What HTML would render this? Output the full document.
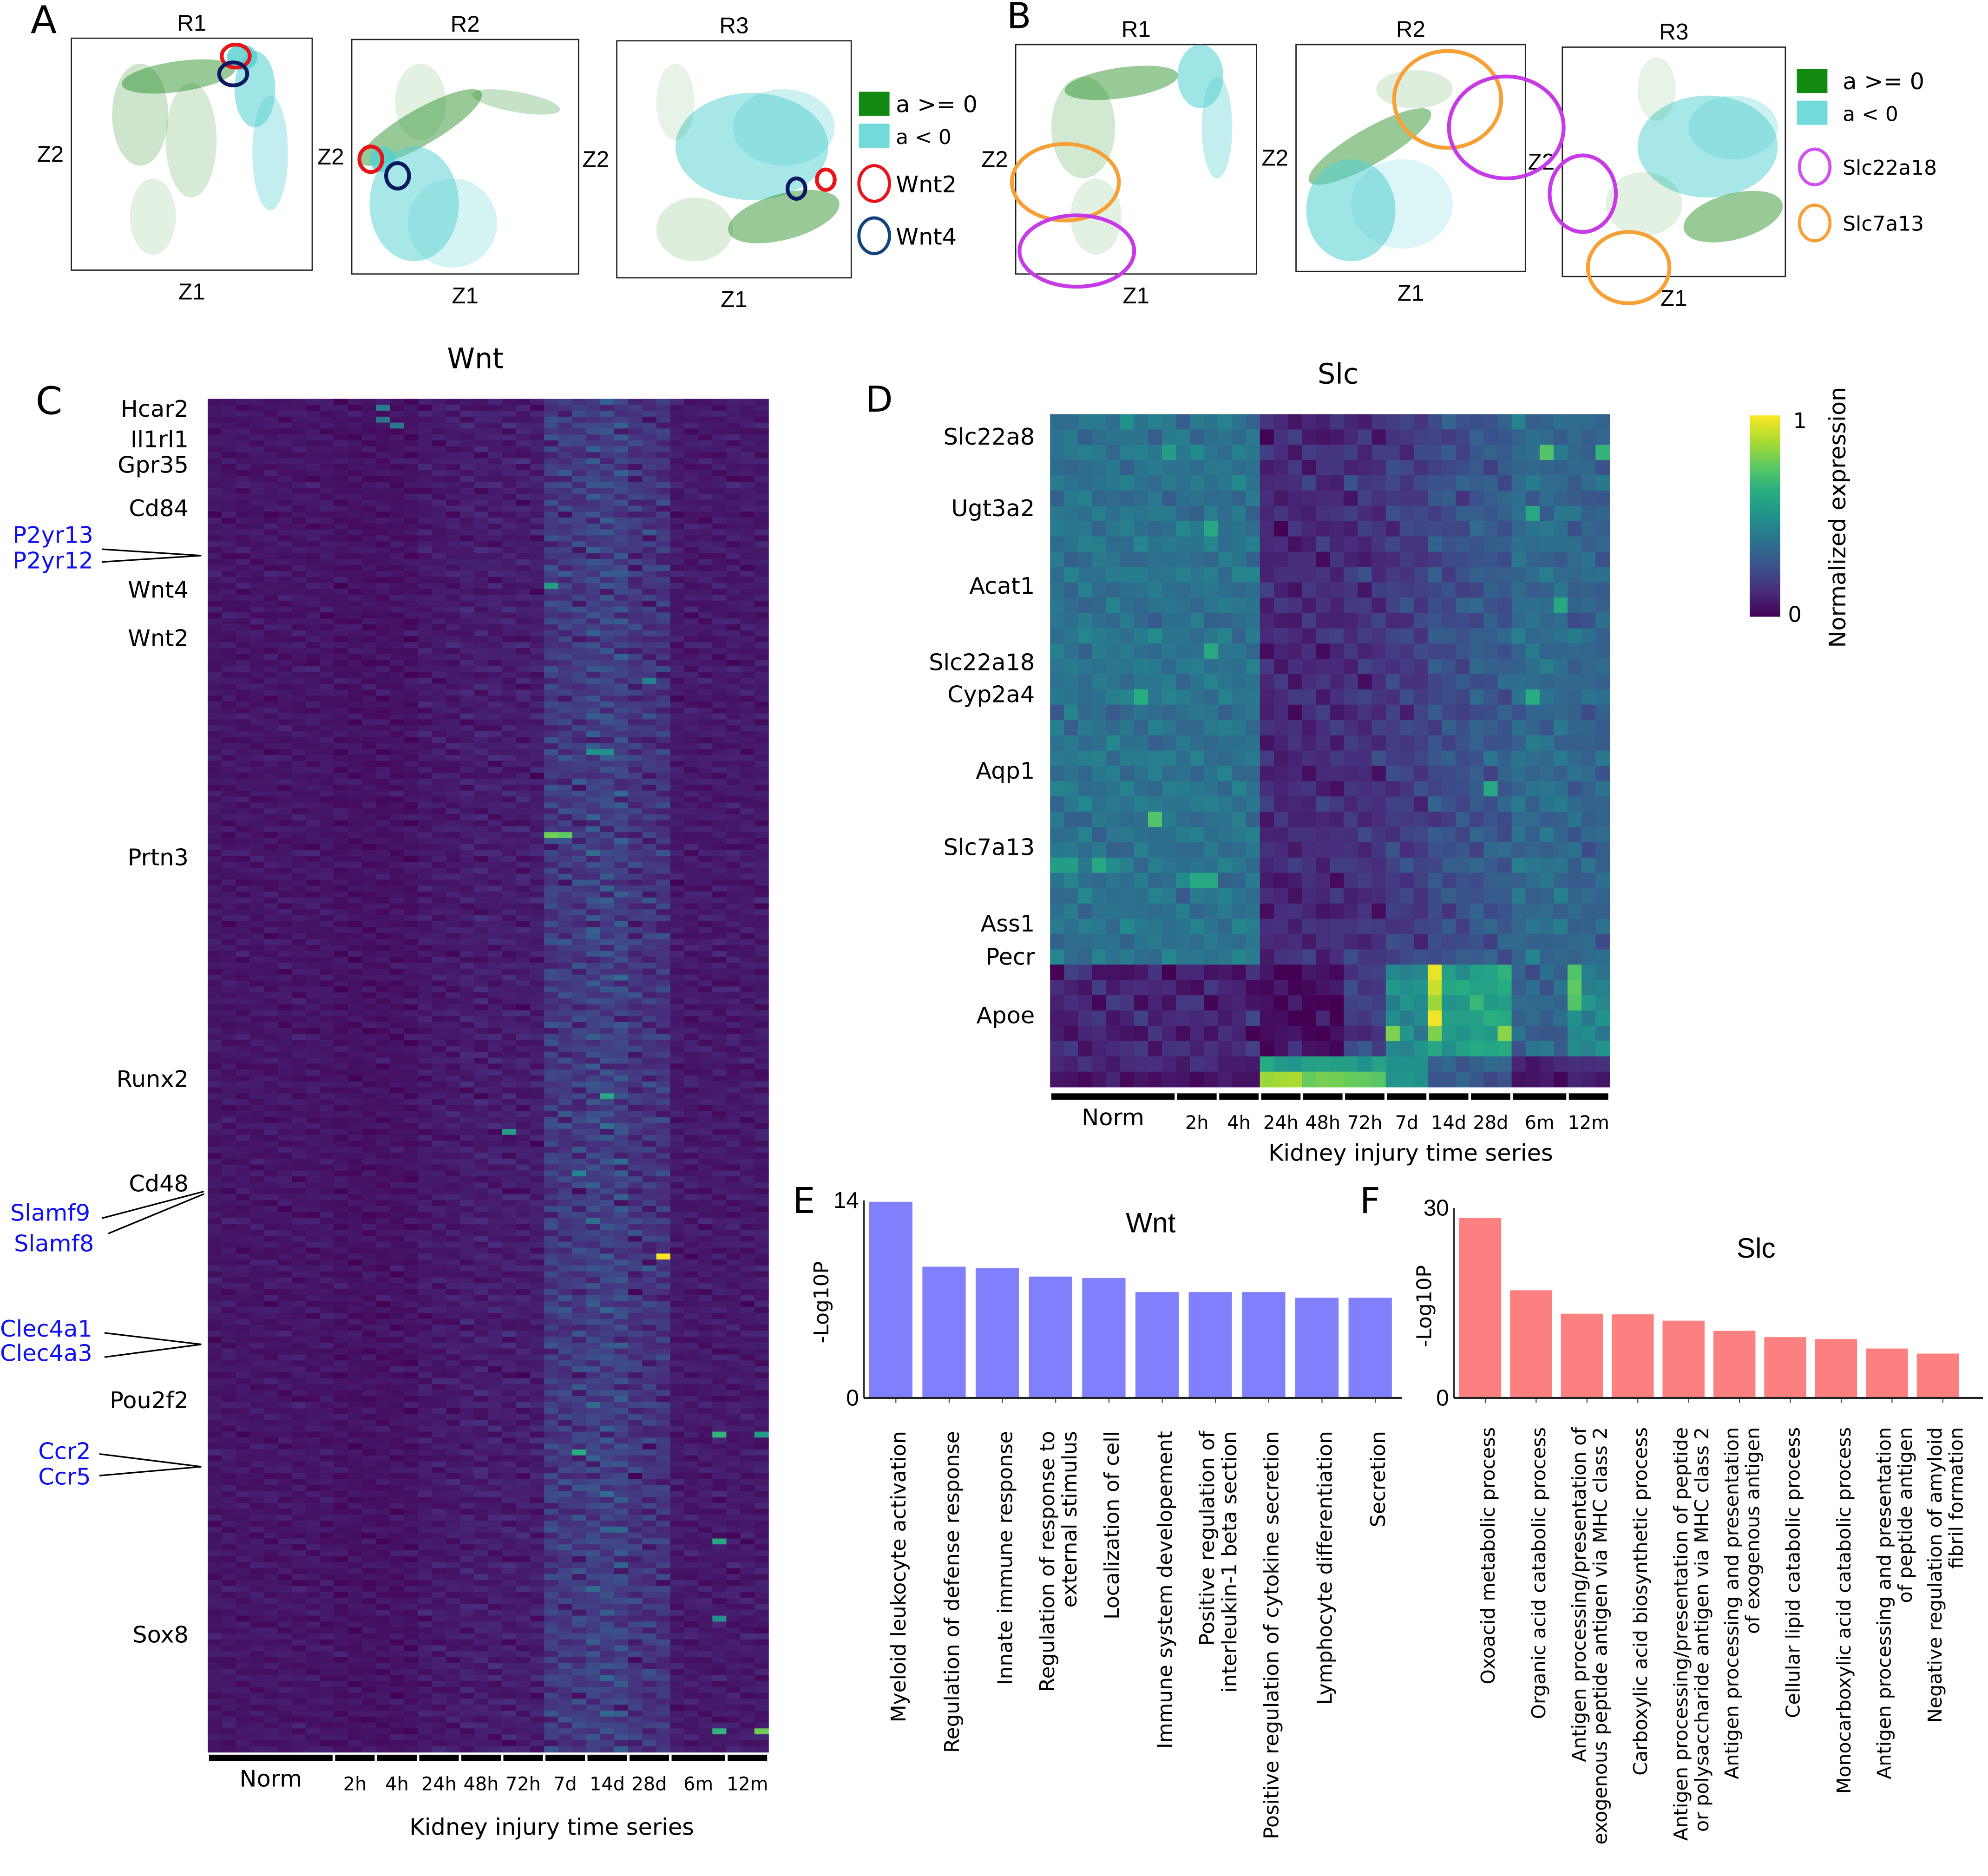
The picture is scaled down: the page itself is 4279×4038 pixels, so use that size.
<!DOCTYPE html>
<html><head><meta charset="utf-8">
<style>
html,body{margin:0;padding:0;background:#fff;}
svg{display:block;}
text{font-family:"DejaVu Sans","Liberation Sans",sans-serif;}
.cond{font-family:"Liberation Sans",sans-serif;}
</style></head>
<body>
<svg id="fig" width="4279" height="4038" viewBox="0 0 1560 1472.2" preserveAspectRatio="none" xmlns="http://www.w3.org/2000/svg">
<rect x="0" y="0" width="1560" height="1473" fill="#fff"/>
<text x="24" y="26" font-size="30">A</text>
<text x="790" y="22" font-size="28">B</text>
<text x="28" y="325" font-size="30">C</text>
<text x="679" y="323" font-size="28">D</text>
<text x="622" y="952" font-size="28">E</text>
<text x="1067" y="952" font-size="28">F</text>
<g id="scatters"></g>
<g id="legends"></g>
<g id="heatC"></g>
<g id="heatD"></g>
<g id="barE"></g>
<g id="barF"></g>
</svg>
<script>
const NS="http://www.w3.org/2000/svg";
function mk(tag,attrs,parent,txt){const e=document.createElementNS(NS,tag);for(const k in attrs)e.setAttribute(k,attrs[k]);if(txt!==undefined)e.textContent=txt;parent.appendChild(e);return e;}
const VIR=["#440154","#472d7b","#3b528b","#2c728e","#21918c","#28ae80","#5ec962","#addc30","#fde725"];
function hx(h){return [parseInt(h.substr(1,2),16),parseInt(h.substr(3,2),16),parseInt(h.substr(5,2),16)];}
function viridis(v){v=Math.max(0,Math.min(1,v));const p=v*8,i=Math.min(7,Math.floor(p)),f=p-i;const a=hx(VIR[i]),b=hx(VIR[i+1]);return "rgb("+a.map((x,k)=>Math.round(x+(b[k]-x)*f)).join(",")+")";}

/* ---------- Panels A / B scatter ---------- */
const panelNames=["a-r1","a-r2","a-r3","b-r1","b-r2","b-r3"];
const panelBoxes=[[56,30,189,182],[276,31,178,184],[484,32,184,186],[797,35,189,180],[1017,35,180,178],[1226,37,175,180]];
const GREEN="#1a8a1a",CYAN="#52cfd0";
const clusters=[
[0,140,60,45,12,-8,"g",0.45],[0,110,90,22,40,0,"g",0.22],[0,150,110,20,45,0,"g",0.18],[0,200,70,16,30,0,"c",0.55],[0,212,120,14,45,0,"c",0.35],[0,120,170,18,30,0,"g",0.12],[0,190,45,12,10,0,"c",0.8],
[1,330,100,55,14,-30,"g",0.45],[1,405,80,35,8,10,"g",0.25],[1,325,160,35,45,0,"c",0.5],[1,355,175,35,35,0,"c",0.25],[1,330,80,20,30,0,"g",0.12],[1,300,125,10,10,0,"c",0.8],
[2,590,115,60,42,0,"c",0.5],[2,615,100,40,30,0,"c",0.3],[2,615,170,45,18,-15,"g",0.45],[2,545,180,30,25,0,"g",0.15],[2,530,80,15,30,0,"g",0.1],
[3,880,65,45,12,-8,"g",0.45],[3,850,100,25,40,0,"g",0.2],[3,942,60,18,25,0,"c",0.55],[3,955,100,12,40,0,"c",0.35],[3,860,170,20,30,0,"g",0.12],
[4,1075,115,55,14,-30,"g",0.45],[4,1060,165,35,40,0,"c",0.55],[4,1100,160,40,35,0,"c",0.2],[4,1110,70,30,15,0,"g",0.15],
[5,1340,115,55,40,0,"c",0.5],[5,1360,100,35,25,0,"c",0.3],[5,1360,170,40,18,-15,"g",0.45],[5,1290,160,30,25,0,"g",0.12],[5,1300,70,15,25,0,"g",0.1]
];
const markers=[
[0,185,44,11,9,"#e8141a"],[0,183,58,11,9,"#0b1a60"],
[1,291,125,9,10,"#e8141a"],[1,312,138,9,10,"#0b1a60"],
[2,648,141,7,8,"#e8141a"],[2,625,148,7,8,"#0b1a60"],
[3,836,143,42,30,"#f7a035"],[3,845,197,45,28,"#c83ae8"],
[4,1136,78,42,38,"#f7a035"],[4,1182,100,45,40,"#c83ae8"],
[5,1242,152,26,30,"#c83ae8"],[5,1278,210,32,28,"#f7a035"]
];
(function(){
 const g=document.getElementById("scatters");
 panelBoxes.forEach((b,i)=>{
  const pg=mk("g",{},g);
  
  
  const r=mk("rect",{x:b[0],y:b[1],width:b[2],height:b[3],fill:"#fff",stroke:"#222","stroke-width":1},pg);
  
  
  const t=mk("text",{x:b[0]+b[2]/2,y:b[1]-6,"font-size":18,"text-anchor":"middle",class:"cond"},pg,"R"+(i%3+1));
  
  
  const zx=mk("text",{x:b[0]+b[2]/2,y:b[1]+b[3]+23,"font-size":18,"text-anchor":"middle",class:"cond"},pg,"Z1");
  
  
  const zy=mk("text",{x:b[0]-6,y:b[1]+b[3]/2+6,"font-size":18,"text-anchor":"end",class:"cond"},pg,"Z2");
  
  
 });
 clusters.forEach(c=>{
  const e=mk("ellipse",{cx:c[1],cy:c[2],rx:c[3],ry:c[4],transform:"rotate("+c[5]+" "+c[1]+" "+c[2]+")",fill:c[6]=="g"?GREEN:CYAN,"fill-opacity":c[7]},g);
  
  
 });
 markers.forEach(m=>{
  const e=mk("ellipse",{cx:m[1],cy:m[2],rx:m[3],ry:m[4],fill:"none",stroke:m[5],"stroke-width":3},g);
  
  
 });
 const L=document.getElementById("legends");
 const items=[
  ["rect",674,72,"#128a12","a >= 0",703,88],["rect",674,97,"#72dada","a  <  0",703,113],
  ["circ",686,144,"#e8141a","Wnt2",703,151],["circ",686,185,"#12437a","Wnt4",703,192],
  ["rect",1410,54,"#128a12","a >= 0",1446,70],["rect",1410,79,"#72dada","a  <  0",1446,95],
  ["circ",1424,131,"#d050f0","Slc22a18",1446,137],["circ",1424,175,"#f7a035","Slc7a13",1446,181]];
 items.forEach(it=>{
  if(it[0]=="rect"){const r=mk("rect",{x:it[1],y:it[2],width:24,height:19,fill:it[3]},L);}
  else{const c=mk("ellipse",{cx:it[1],cy:it[2],rx:12,ry:14,fill:"none",stroke:it[3],"stroke-width":2.5},L);}
  const t=mk("text",{x:it[5],y:it[6],"font-size":it[4].length>6?16:18,"xml:space":"preserve"},L,it[4]);
  
  
 });
})();

/* ---------- shared heatmap data ---------- */
const timeGroups=["Norm","2h","4h","24h","48h","72h","7d","14d","28d","6m","12m"];
const groupCols=[9,3,3,3,3,3,3,3,3,4,3];
const colJit=[0.2,0.7,0.4,0.9,0.1,0.5,0.8,0.3,0.6,0.2,0.9,0.4,0.7,0.1,0.5,0.3,0.8,0.6,0.2,0.9,0.4,0.1,0.7,0.5,0.3,0.8,0.2,0.6,0.9,0.4,0.1,0.7,0.5,0.8,0.3,0.6,0.2,0.9,0.4,0.7];
const rowJit=[0.5,0.1,0.8,0.3,0.9,0.2,0.6,0.4,0.7,0.0,0.85,0.35,0.55,0.15,0.95,0.25,0.65,0.45,0.75,0.05,0.6,0.3,0.9,0.2,0.5,0.8,0.1,0.7,0.4,0.95,0.25];
const rowJit2=[0.3,0.9,0.1,0.6,0.8,0.2,0.5,0.95,0.0,0.7,0.4,0.15,0.85,0.55,0.25,0.75,0.45];
function groupOf(c){let s=0;for(let g=0;g<groupCols.length;g++){s+=groupCols[g];if(c<s)return g;}return groupCols.length-1;}
function tex(r,c){return (rowJit[(r*3+c*7)%31]+rowJit2[(r+c*5)%17]+0.5*colJit[(r*11+c)%40]+0.5*rowJit[r%31])/3-0.5;}

/* ---------- Heatmap C (Wnt) ---------- */
const cBase=[0.06,0.05,0.05,0.07,0.08,0.08,0.17,0.2,0.15,0.07,0.07];
const cAmp=[0.14,0.14,0.14,0.16,0.18,0.18,0.36,0.4,0.34,0.16,0.16];
const cHot=[[24,73,0.78],[25,73,0.75],[32,144,1.0],[36,174,0.65],[39,174,0.55],[36,224,0.65],[39,224,0.78],[36,192,0.6],[21,123,0.55],[26,177,0.62],[28,117,0.6],[24,31,0.55],[27,59,0.5],[28,59,0.5],[12,1,0.42],[12,3,0.38],[13,4,0.4],[31,47,0.45],[26,130,0.45],[36,205,0.5]];
const cGenes=["Hcar2","Il1rl1","Gpr35","Cd84","Wnt4","Wnt2","Prtn3","Runx2","Cd48","Pou2f2","Sox8"];
const cGeneY=[327,351,371,405,469,507,679,853,935,1105,1289];
const cBlue=[["P2yr13",10,426],["P2yr12",10,446],["Slamf9",8,958],["Slamf8",11,982],["Clec4a1",0,1049],["Clec4a3",0,1068],["Ccr2",30,1145],["Ccr5",30,1165]];
const cLines=[[80,431,158,436],[80,441,158,436],[80,956,160,935],[85,968,160,937],[82,1046,158,1055],[82,1065,158,1055],[78,1141,158,1151],[78,1158,158,1151]];
(function(){
 const g=document.getElementById("heatC");
 const X0=163,Y0=313,W=440,H=1062,NC=40,NR=228,cw=W/NC,rh=H/NR;
 const xs=c=>X0+c*cw, ys=r=>Y0+r*rh;
 const hot={};cHot.forEach(h=>hot[h[0]+","+h[1]]=h[2]);
 for(let r=0;r<NR;r++)for(let c=0;c<NC;c++){
  const gi=groupOf(c);let v=cBase[gi]+cAmp[gi]*tex(r,c);
  if(hot[c+","+r]!==undefined)v=hot[c+","+r];
  const e=mk("rect",{x:xs(c).toFixed(2),y:ys(r).toFixed(2),width:(cw+0.3).toFixed(2),height:(rh+0.3).toFixed(2),fill:viridis(v)},g);
  
  
 }
 const t=mk("text",{x:373,y:289,"font-size":22,"text-anchor":"middle"},g,"Wnt");
 
 
 let s=0;
 timeGroups.forEach((tg,i)=>{
  const x1=xs(s)+1,x2=xs(s+groupCols[i])-1;s+=groupCols[i];
  const b=mk("rect",{x:x1,y:1377,width:x2-x1,height:5,fill:"#000"},g);
  
  
  const l=mk("text",{x:(x1+x2)/2,y:i==0?1402:1405,"font-size":i==0?18:14.5,"text-anchor":"middle"},g,tg);
  
  
 });
 const xl=mk("text",{x:433,y:1440,"font-size":18,"text-anchor":"middle"},g,"Kidney injury time series");
 
 
 cGenes.forEach((n,i)=>{const e=mk("text",{x:148,y:cGeneY[i],"font-size":18,"text-anchor":"end"},g,n);});
 cBlue.forEach(b=>{const e=mk("text",{x:b[1],y:b[2],"font-size":18,fill:"#1010f0"},g,b[0]);});
 cLines.forEach(l=>{const e=mk("line",{x1:l[0],y1:l[1],x2:l[2],y2:l[3],stroke:"#000","stroke-width":1.2},g);});
})();

/* ---------- Heatmap D (Slc) ---------- */
const dTop=[0.38,0.38,0.38,0.11,0.12,0.14,0.18,0.24,0.28,0.35,0.32];
const dBot=[0.1,0.1,0.1,0.04,0.04,0.18,0.48,0.55,0.58,0.32,0.45];
const dRow42=[0.12,0.1,0.1,0.55,0.55,0.55,0.5,0.3,0.35,0.1,0.15];
const dRow43=[0.06,0.05,0.05,0.85,0.78,0.75,0.5,0.28,0.25,0.06,0.08];
const dHot=[[27,36,0.97],[27,37,0.92],[27,38,0.85],[27,39,0.98],[37,36,0.72],[37,37,0.75],[37,38,0.72],[32,40,0.82],[24,40,0.8],[27,40,0.8],[7,26,0.72],[11,7,0.6],[11,15,0.6],[8,2,0.55],[35,2,0.72],[39,2,0.65],[34,6,0.6],[36,12,0.6],[6,18,0.62],[34,18,0.62],[5,0,0.5],[0,29,0.55],[1,29,0.55],[3,29,0.6],[10,30,0.6],[11,30,0.6],[31,24,0.6],[26,44,0.2]];
const dGenes=["Slc22a8","Ugt3a2","Acat1","Slc22a18","Cyp2a4","Aqp1","Slc7a13","Ass1","Pecr","Apoe"];
const dGeneY=[349,405,466,526,551,611,671,731,757,803];
(function(){
 const g=document.getElementById("heatD");
 const X0=824,Y0=325,W=439,H=528,NC=40,NR=44,cw=W/NC,rh=H/NR;
 const xs=c=>X0+c*cw, ys=r=>Y0+r*rh;
 const hot={};dHot.forEach(h=>hot[h[0]+","+h[1]]=h[2]);
 for(let r=0;r<NR;r++)for(let c=0;c<NC;c++){
  const gi=groupOf(c);let v;
  if(r<36)v=dTop[gi]+0.28*tex(r,c);
  else if(r<42)v=dBot[gi]+0.3*tex(r,c);
  else if(r==42)v=dRow42[gi]+0.2*tex(r,c);
  else v=dRow43[gi]+0.15*tex(r,c);
  if(hot[c+","+r]!==undefined)v=hot[c+","+r];
  const e=mk("rect",{x:xs(c).toFixed(2),y:ys(r).toFixed(2),width:(cw+0.3).toFixed(2),height:(rh+0.3).toFixed(2),fill:viridis(v)},g);
  
  
 }
 const t=mk("text",{x:1050,y:301,"font-size":22,"text-anchor":"middle"},g,"Slc");
 
 
 let s=0;
 timeGroups.forEach((tg,i)=>{
  const x1=xs(s)+1,x2=xs(s+groupCols[i])-1;s+=groupCols[i];
  const b=mk("rect",{x:x1,y:858,width:x2-x1,height:5,fill:"#000"},g);
  
  
  const l=mk("text",{x:(x1+x2)/2,y:i==0?883:886,"font-size":i==0?18:14.5,"text-anchor":"middle"},g,tg);
  
  
 });
 const xl=mk("text",{x:1107,y:911,"font-size":18,"text-anchor":"middle"},g,"Kidney injury time series");
 
 
 dGenes.forEach((n,i)=>{const e=mk("text",{x:812,y:dGeneY[i],"font-size":18,"text-anchor":"end"},g,n);});
 const defs=mk("defs",{},g);
 const lg=mk("linearGradient",{id:"vir",x1:0,y1:1,x2:0,y2:0},defs);
 VIR.forEach((c,i)=>mk("stop",{offset:(i/8),"stop-color":c},lg));
 const cb=mk("rect",{x:1373,y:326,width:24,height:158,fill:"url(#vir)"},g);
 
 
 const c1=mk("text",{x:1407,y:336,"font-size":17},g,"1");
 const c0=mk("text",{x:1403,y:488,"font-size":17},g,"0");
 const ct=mk("text",{x:0,y:0,"font-size":18,"text-anchor":"middle",transform:"translate(1448,406) rotate(-90)"},g,"Normalized expression");
 
 
})();

/* ---------- Bar charts ---------- */
const eCategories=[["Myeloid leukocyte activation"],["Regulation of defense response"],["Innate immune response"],["Regulation of response  to","external stimulus"],["Localization of cell"],["Immune system developement"],["Positive regulation of","interleukin-1 beta section"],["Positive regulation of cytokine secretion"],["Lymphocyte differentiation"],["Secretion"]];
const eValues=[13.9,9.3,9.2,8.6,8.5,7.5,7.5,7.5,7.1,7.1];
const eTicks=[0,14];
const fCategories=[["Oxoacid metabolic process"],["Organic acid catabolic process"],["Antigen processing/presentation of","exogenous peptide antigen via MHC class 2"],["Carboxylic acid biosynthetic process"],["Antigen processing/presentation of peptide","or polysaccharide antigen via MHC class 2"],["Antigen processing and presentation","of exogenous antigen"],["Cellular lipid catabolic process"],["Monocarboxylic acid catabolic process"],["Antigen processing and presentation","of peptide antigen"],["Negative regulation of amyloid","fibril formation"]];
const fValues=[28.4,17.0,13.3,13.2,12.2,10.6,9.6,9.3,7.8,7.0];
const fTicks=[0,30];
function barChart(gid,cats,vals,ticks,o){
 const g=document.getElementById(gid);
 const ys=v=>o.y0-(v-ticks[0])/(ticks[1]-ticks[0])*(o.y0-o.y1);
 const xs=i=>o.bx+i*o.pitch;
 vals.forEach((v,i)=>{
  const r=mk("rect",{x:xs(i),y:ys(v),width:o.bw,height:o.y0-ys(v),fill:o.color},g);
  
  
  const tk=mk("line",{x1:xs(i)+o.bw/2+4,y1:o.y0,x2:xs(i)+o.bw/2+4,y2:o.y0+4,stroke:"#444","stroke-width":0.8},g);
  
  
  const cx=xs(i)+o.bw/2+6;
  const lines=cats[i];
  const t=mk("text",{x:0,y:0,"font-size":o.fs,"text-anchor":"end",transform:"translate("+cx+","+o.ltop+") rotate(-90)"},g);
  
  
  lines.forEach((ln,k)=>{mk("tspan",{x:0,dy:k==0?(-(lines.length-1)*o.fs*0.55+o.fs*0.35):o.fs*1.1},t,ln);});
 });
 const ax=mk("line",{x1:o.ax,y1:o.y1,x2:o.ax,y2:o.y0,stroke:"#222","stroke-width":1.2},g);
 
 const bx=mk("line",{x1:o.ax,y1:o.y0,x2:o.axEnd,y2:o.y0,stroke:"#222","stroke-width":1.5},g);
 
 ticks.forEach(tv=>{const t=mk("text",{x:o.ax-4,y:ys(tv)+6,"font-size":18,"text-anchor":"end",class:"cond"},g,String(tv));});
 const yt=mk("text",{x:0,y:0,"font-size":16,"text-anchor":"middle",transform:"translate("+o.ytx+","+o.yty+") rotate(-90)"},g,"-Log10P");
 
 const tt=mk("text",{x:o.tx,y:o.ty,"font-size":22,"text-anchor":"middle",class:"cond"},g,o.title);
 
}
barChart("barE",eCategories,eValues,eTicks,{y0:1097,y1:942,bx:682,bw:34,pitch:41.8,ax:678,axEnd:1100,color:"#8080fc",fs:16,ltop:1123,ytx:650,yty:1022,tx:903,ty:967,title:"Wnt"});
barChart("barF",fCategories,fValues,fTicks,{y0:1097,y1:948,bx:1145,bw:33,pitch:39.9,ax:1141,axEnd:1556,color:"#fc8080",fs:15,ltop:1120,ytx:1123,yty:1025,tx:1378,ty:987,title:"Slc"});
</script>
</body></html>
